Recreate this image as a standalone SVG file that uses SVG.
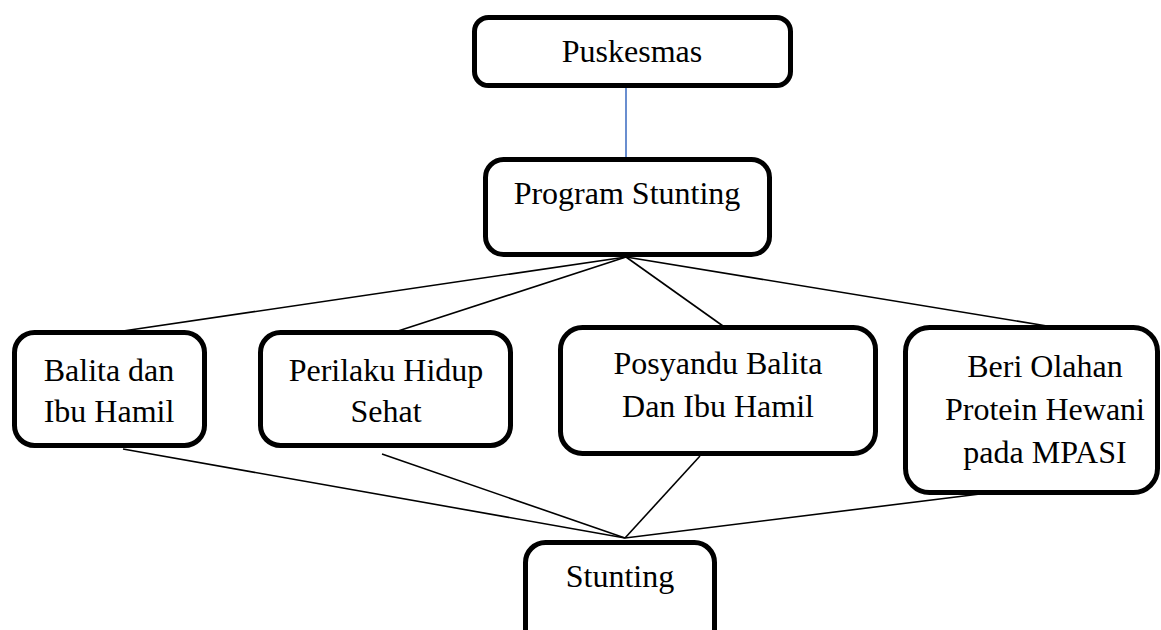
<svg xmlns="http://www.w3.org/2000/svg" width="1161" height="630" viewBox="0 0 1161 630">
<style>
.box{fill:#fff;stroke:#000;stroke-width:5}
.t{font-family:"Liberation Serif","Times New Roman",serif;font-size:32px;fill:#000;text-anchor:middle}
.ln{stroke:#000;stroke-width:1.6;fill:none}
.bl{stroke:#4472C4;stroke-width:1.6;fill:none}
</style>
<rect width="1161" height="630" fill="#fff"/>
<g id="connectors">
<line class="bl" x1="626" y1="88" x2="626" y2="157"/>
<line class="ln" x1="626" y1="257" x2="123" y2="331"/>
<line class="ln" x1="626" y1="257" x2="398" y2="331"/>
<line class="ln" x1="626" y1="257" x2="723" y2="326"/>
<line class="ln" x1="626" y1="257" x2="1047" y2="326"/>
<line class="ln" x1="123" y1="449" x2="625" y2="538"/>
<line class="ln" x1="382" y1="454" x2="625" y2="538"/>
<line class="ln" x1="700" y1="456" x2="625" y2="538"/>
<line class="ln" x1="980" y1="494" x2="625" y2="538"/>
</g>
<g id="puskesmas">
<rect class="box" x="474.5" y="17.5" width="316" height="68" rx="14"/>
<text class="t" x="632" y="62">Puskesmas</text>
</g>
<g id="program-stunting">
<rect class="box" x="485.5" y="159.5" width="284" height="95" rx="18"/>
<text class="t" x="627" y="204">Program Stunting</text>
</g>
<g id="balita">
<rect class="box" x="14.5" y="332.5" width="190" height="113" rx="20"/>
<text class="t" x="109" y="381">Balita dan</text>
<text class="t" x="109" y="422">Ibu Hamil</text>
</g>
<g id="perilaku">
<rect class="box" x="260.5" y="332.5" width="250" height="113" rx="20"/>
<text class="t" x="386" y="381">Perilaku Hidup</text>
<text class="t" x="386" y="422">Sehat</text>
</g>
<g id="posyandu">
<rect class="box" x="560.5" y="327.5" width="315" height="126" rx="22"/>
<text class="t" x="718" y="374">Posyandu Balita</text>
<text class="t" x="718" y="417">Dan Ibu Hamil</text>
</g>
<g id="beri-olahan">
<rect class="box" x="905.5" y="327.5" width="252" height="165" rx="24"/>
<text class="t" x="1045" y="377">Beri Olahan</text>
<text class="t" x="1045" y="420">Protein Hewani</text>
<text class="t" x="1045" y="463">pada MPASI</text>
</g>
<g id="stunting">
<rect class="box" x="525.5" y="542.5" width="189" height="110" rx="20"/>
<text class="t" x="620" y="587">Stunting</text>
</g>
</svg>
